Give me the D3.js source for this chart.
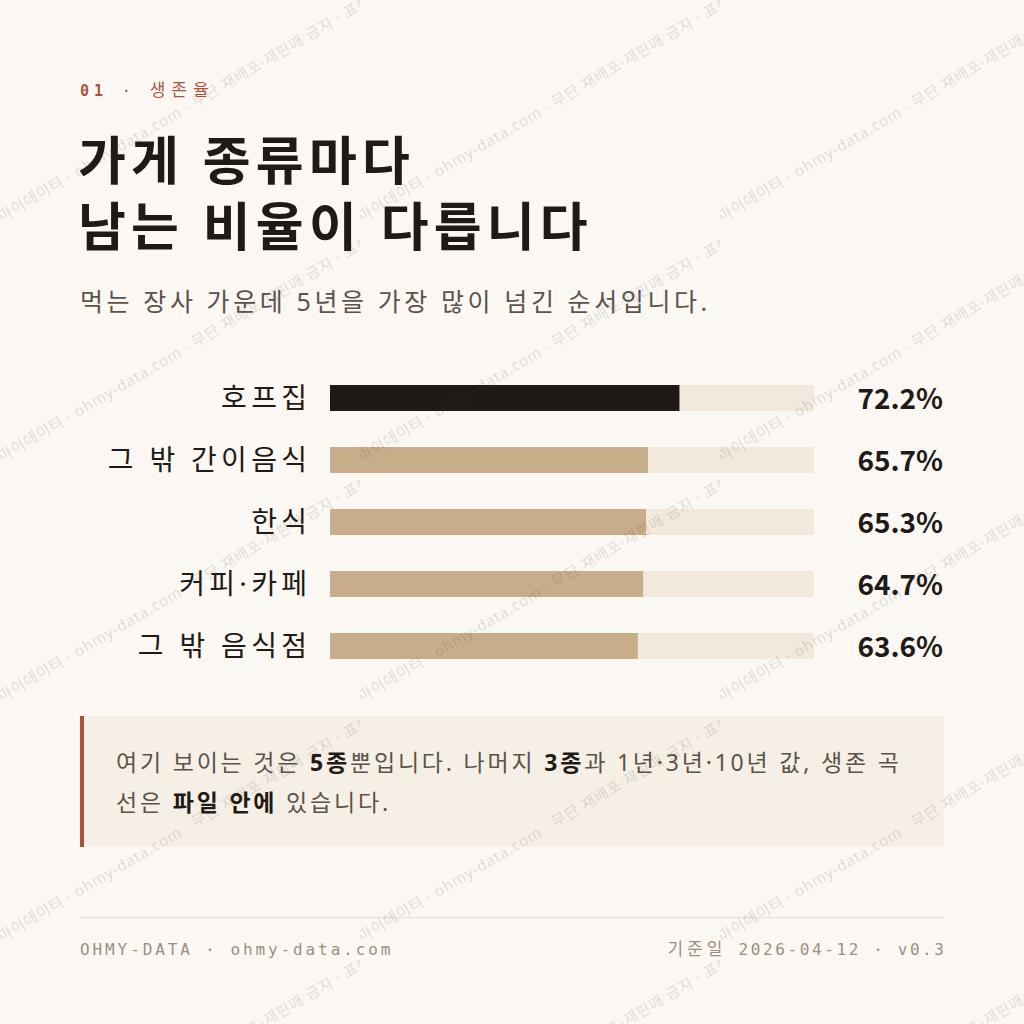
<!DOCTYPE html>
<html>
<head>
<meta charset="utf-8">
<script src="https://cdn.jsdelivr.net/npm/d3@7"></script>
<style>
  body { margin: 0; background: #fbf8f3; }
  svg { display: block; }
</style>
</head>
<body>
<svg id="chart"></svg>
<script>
// data
const categories = ["호프집", "그 밖 간이음식", "한식", "커피·카페", "그 밖 음식점"];
const survival = [72.2, 65.7, 65.3, 64.7, 63.6];
const highlight = ["호프집"];

const kicker = [["01", "b"], [" · ", "n"], ["생존율", "k"]];
const titleLines = ["가게 종류마다", "남는 비율이 다릅니다"];
const subtitle = "먹는 장사 가운데 5년을 가장 많이 넘긴 순서입니다.";
// callout lines, [text, bold]
const noteLines = [
  [["여기 보이는 것은 ", false], ["5종", true], ["뿐입니다. 나머지 ", false], ["3종", true], ["과 1년·3년·10년 값, 생존 곡", false]],
  [["선은 ", false], ["파일 안에", true], [" 있습니다.", false]]
];
const footLeft = "OHMY-DATA · ohmy-data.com";
const footRight = [["기준일", "k"], [" 2026-04-12 · v0.3", "n"]];
const watermark = "마이데이터 · ohmy-data.com · 무단 재배포·재판매 금지 · 표본 자료";

const width = 1024, height = 1024;
const ink = "#1f1a17", soft = "#5b534b", rust = "#a9533b", tan = "#c8ad8b", track = "#f2e9dc";
const sans = "'Noto Sans', 'Noto Sans CJK KR', sans-serif";
const cjk = "'Noto Sans CJK KR', 'Noto Sans', sans-serif";
const mono = "'DejaVu Sans Mono', 'Noto Sans CJK KR', monospace";

const svg = d3.select("#chart")
  .attr("width", width)
  .attr("height", height);

svg.append("rect").attr("width", width).attr("height", height).attr("fill", "#fbf8f3");

// kicker
svg.append("text")
  .attr("x", 80).attr("y", 96)
  .style("font-family", mono)
  .style("font-size", "15px")
  .style("letter-spacing", "4.9px")
  .attr("fill", rust)
  .selectAll("tspan")
  .data(kicker)
  .join("tspan")
  .style("font-weight", d => d[1] === "b" ? "700" : "400")
  .style("font-size", d => d[1] === "k" ? "17px" : null)
  .style("letter-spacing", d => d[1] === "k" ? "6px" : null)
  .text(d => d[0]);

// title
svg.append("g")
  .selectAll("text")
  .data(titleLines)
  .join("text")
  .attr("x", 78)
  .attr("y", (d, i) => 180 + i * 66)
  .style("font-family", sans)
  .style("font-size", "52px")
  .style("font-weight", "700")
  .style("letter-spacing", "5.2px")
  .attr("fill", ink)
  .text(d => d);

// subtitle
svg.append("text")
  .attr("x", 80).attr("y", 311)
  .style("font-family", sans)
  .style("font-size", "25px")
  .style("letter-spacing", "3.6px")
  .attr("fill", soft)
  .text(subtitle);

// bars
const rows = categories.map((c, i) => ({ cat: c, value: survival[i] }));

const x = d3.scaleLinear().domain([0, 100]).range([330, 814]);
const y = d3.scalePoint().domain(categories).range([398, 646]);
const barH = 26;

const bars = svg.append("g");

bars.selectAll("rect.track")
  .data(rows)
  .join("rect")
  .attr("class", "track")
  .attr("x", x(0))
  .attr("y", d => y(d.cat) - barH / 2)
  .attr("width", x(100) - x(0))
  .attr("height", barH)
  .attr("fill", track);

bars.selectAll("rect.bar")
  .data(rows)
  .join("rect")
  .attr("class", "bar")
  .attr("x", x(0))
  .attr("y", d => y(d.cat) - barH / 2)
  .attr("width", d => x(d.value) - x(0))
  .attr("height", barH)
  .attr("fill", d => highlight.includes(d.cat) ? ink : tan);

bars.selectAll("text.label")
  .data(rows)
  .join("text")
  .attr("class", "label")
  .attr("x", 307 + 4.3)
  .attr("y", d => y(d.cat))
  .attr("dy", "0.36em")
  .attr("text-anchor", "end")
  .style("font-family", sans)
  .style("font-size", "28px")
  .style("letter-spacing", "4.3px")
  .attr("fill", ink)
  .text(d => d.cat);

bars.selectAll("text.value")
  .data(rows)
  .join("text")
  .attr("class", "value")
  .attr("x", 943)
  .attr("y", d => y(d.cat))
  .attr("dy", "0.38em")
  .attr("text-anchor", "end")
  .style("font-family", cjk)
  .style("font-size", "28px")
  .style("font-weight", "700")
  .attr("fill", ink)
  .text(d => d.value.toFixed(1) + "%");

// callout
svg.append("rect")
  .attr("x", 80).attr("y", 716)
  .attr("width", 864).attr("height", 131)
  .attr("fill", "#f6efe5");
svg.append("rect")
  .attr("x", 80).attr("y", 716)
  .attr("width", 4).attr("height", 131)
  .attr("fill", rust);

svg.append("g")
  .selectAll("text")
  .data(noteLines)
  .join("text")
  .attr("x", 116)
  .attr("y", (d, i) => 771 + i * 40)
  .style("font-family", sans)
  .style("font-size", "23px")
  .style("letter-spacing", "2.8px")
  .attr("fill", soft)
  .selectAll("tspan")
  .data(d => d)
  .join("tspan")
  .style("font-weight", d => d[1] ? "700" : "400")
  .attr("fill", d => d[1] ? ink : soft)
  .text(d => d[0]);

// footer
svg.append("line")
  .attr("x1", 80).attr("x2", 944)
  .attr("y1", 917.5).attr("y2", 917.5)
  .attr("stroke", "#ebe4d8")
  .attr("stroke-width", 1.5);

svg.append("text")
  .attr("x", 80).attr("y", 955)
  .style("font-family", mono)
  .style("font-size", "16px")
  .style("letter-spacing", "2.9px")
  .attr("fill", "#9a8f82")
  .text(footLeft);

svg.append("text")
  .attr("x", 944 + 2.6).attr("y", 955)
  .attr("text-anchor", "end")
  .style("font-family", mono)
  .style("font-size", "16px")
  .style("letter-spacing", "2.6px")
  .attr("fill", "#9a8f82")
  .selectAll("tspan")
  .data(footRight)
  .join("tspan")
  .style("font-size", d => d[1] === "k" ? "17px" : null)
  .style("letter-spacing", d => d[1] === "k" ? "4px" : null)
  .text(d => d[0]);

// watermark tiles
const pat = svg.append("defs").append("pattern")
  .attr("id", "wm")
  .attr("patternUnits", "userSpaceOnUse")
  .attr("width", 360)
  .attr("height", 240);

pat.append("text")
  .attr("transform", "translate(2,222) rotate(-30.5)")
  .style("font-family", sans)
  .style("font-size", "15px")
  .style("letter-spacing", "0.9px")
  .attr("fill", "#3c3228")
  .attr("fill-opacity", 0.15)
  .text(watermark);

svg.append("rect")
  .attr("width", width).attr("height", height)
  .attr("fill", "url(#wm)")
  .style("pointer-events", "none");
</script>
</body>
</html>
